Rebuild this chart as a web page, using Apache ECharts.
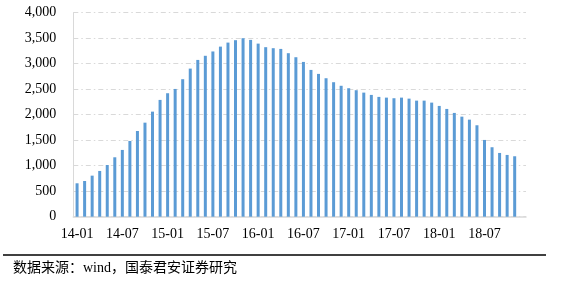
<!DOCTYPE html>
<html>
<head>
<meta charset="utf-8">
<script src="https://cdn.jsdelivr.net/npm/echarts@6/dist/echarts.min.js"></script>
<style>
html,body{margin:0;padding:0;background:#fff;}
#chart{width:579px;height:292px;}
</style>
</head>
<body>
<div id="chart"></div>
<script>
// Categories: monthly, 14-01 .. 18-12 (last month has no bar)
const categories = [
  '14-01','14-02','14-03','14-04','14-05','14-06','14-07','14-08','14-09','14-10','14-11','14-12',
  '15-01','15-02','15-03','15-04','15-05','15-06','15-07','15-08','15-09','15-10','15-11','15-12',
  '16-01','16-02','16-03','16-04','16-05','16-06','16-07','16-08','16-09','16-10','16-11','16-12',
  '17-01','17-02','17-03','17-04','17-05','17-06','17-07','17-08','17-09','17-10','17-11','17-12',
  '18-01','18-02','18-03','18-04','18-05','18-06','18-07','18-08','18-09','18-10','18-11','18-12'
];
const values = [
  655, 700, 805, 897, 1014, 1165, 1309, 1485, 1681, 1844, 2060, 2290,
  2421, 2505, 2696, 2904, 3074, 3155, 3240, 3335, 3414, 3461, 3500, 3467,
  3394, 3324, 3304, 3290, 3206, 3127, 3035, 2878, 2800, 2715, 2637, 2567,
  2519, 2480, 2433, 2388, 2349, 2335, 2323, 2335, 2315, 2276, 2276, 2237,
  2172, 2113, 2035, 1962, 1903, 1793, 1505, 1362, 1250, 1211, 1185
];
const yMin = 0, yMax = 4000, yStep = 500;
const sourceText = '数据来源：wind，国泰君安证券研究';

const chart = echarts.init(document.getElementById('chart'), null, {renderer: 'canvas'});
const serif = '"Liberation Serif", "Times New Roman", "Noto Sans CJK SC", serif';
chart.setOption({
  animation: false,
  backgroundColor: '#ffffff',
  grid: {left: 73.3, right: 53, top: 12.7, bottom: 75.3, containLabel: false},
  xAxis: {
    type: 'category',
    data: categories,
    boundaryGap: true,
    axisLine: {show: true, lineStyle: {color: '#d9d9d9', width: 1.5}},
    axisTick: {show: false},
    axisLabel: {
      interval: 5,
      color: '#000',
      fontFamily: serif,
      fontSize: 14,
      margin: 11
    },
    splitLine: {show: false}
  },
  yAxis: {
    type: 'value',
    min: yMin, max: yMax, interval: yStep,
    axisLine: {show: true, lineStyle: {color: '#d9d9d9', width: 1}},
    axisTick: {show: false},
    axisLabel: {
      color: '#000',
      fontFamily: serif,
      fontSize: 14,
      margin: 17,
      formatter: v => v.toLocaleString('en-US')
    },
    splitLine: {show: true, lineStyle: {color: '#d9d9d9', width: 1, type: [5, 3, 1.5, 3]}}
  },
  series: [{
    type: 'bar',
    data: values,
    barWidth: 3,
    itemStyle: {color: '#5b9bd5'},
    silent: true
  }],
  graphic: [
    {
      type: 'line',
      shape: {x1: 3, y1: 255, x2: 546, y2: 255},
      style: {stroke: '#000', lineWidth: 1.5}
    },
    {
      type: 'text',
      left: 13,
      top: 261,
      style: {
        text: sourceText,
        fill: '#000',
        font: '14px "Liberation Serif", "Noto Sans CJK SC", serif'
      }
    }
  ]
});
</script>
</body>
</html>
